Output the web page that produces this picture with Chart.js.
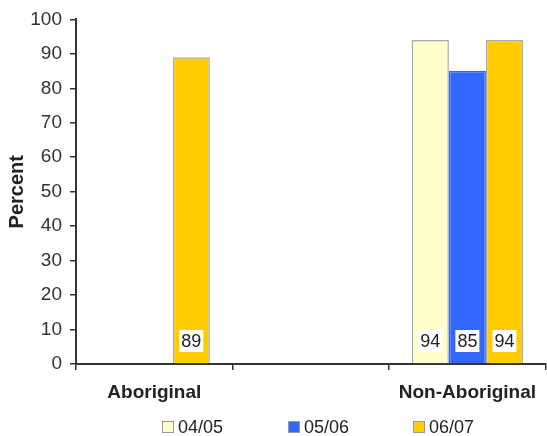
<!DOCTYPE html>
<html>
<head>
<meta charset="utf-8">
<script src="https://cdn.jsdelivr.net/npm/chart.js@4.4.0/dist/chart.umd.min.js"></script>
<style>
  html, body { margin: 0; padding: 0; background: #fff; }
  #wrap { position: relative; width: 547px; height: 436px; }
  #legend { position: absolute; left: 0; top: 417px; width: 547px; height: 20px;
    font-family: "Liberation Sans", Arial, sans-serif; font-size: 18px; color: #222; }
  .leg-item { position: absolute; top: 0; display: flex; align-items: center; height: 20px; }
  .leg-box { width: 12px; height: 12px; box-sizing: border-box; border: 1px solid #999; margin-right: 4px; }
</style>
</head>
<body>
<div id="wrap">
  <canvas id="chart" width="547" height="436"></canvas>
  <div id="legend"></div>
</div>
<script>
const categories = ["Aboriginal", "", "Non-Aboriginal"];
const seriesNames = ["04/05", "05/06", "06/07"];
const values0405 = [null, null, 94];
const values0506 = [null, null, 85];
const values0607 = [89, null, 94];
const yTicks = [0, 10, 20, 30, 40, 50, 60, 70, 80, 90, 100];

const fillColors = ["#FFFFCC", "#3366FF", "#FFCC00"];
const edgeColors = ["#aaaaaa", "#3366FF", "#aaaaaa"];
const legendLeft = [162, 288, 413];

const font = "'Liberation Sans', Arial, sans-serif";

// white value boxes at the foot of each bar
const valueBoxes = {
  id: "valueBoxes",
  afterDatasetsDraw(chart) {
    const ctx = chart.ctx;
    const base = chart.scales.y.getPixelForValue(0);
    ctx.save();
    ctx.font = `18px ${font}`;
    ctx.textAlign = "center";
    ctx.textBaseline = "middle";
    chart.data.datasets.forEach((ds, i) => {
      chart.getDatasetMeta(i).data.forEach((bar, j) => {
        const v = ds.data[j];
        if (v === null || v === undefined) return;
        const cy = base - 23;
        ctx.fillStyle = "#fff";
        ctx.fillRect(bar.x - 12, cy - 11, 24, 22);
        ctx.fillStyle = "#222";
        ctx.fillText(String(v), bar.x, cy + 1);
      });
    });
    ctx.restore();
  },
};

const chart = new Chart(document.getElementById("chart"), {
  type: "bar",
  data: {
    labels: categories,
    datasets: [values0405, values0506, values0607].map((vals, i) => ({
      label: seriesNames[i],
      data: vals,
      backgroundColor: fillColors[i],
      borderColor: edgeColors[i],
      borderWidth: 1.5,
      categoryPercentage: 0.71,
      barPercentage: 1.0,
    })),
  },
  options: {
    responsive: false,
    animation: false,
    layout: { padding: { top: 10, right: 0, bottom: 30, left: 0 } },
    plugins: { legend: { display: false }, tooltip: { enabled: false } },
    scales: {
      x: {
        grid: { drawOnChartArea: false, offset: true, tickLength: 6, color: "#333", lineWidth: 1.5 },
        border: { color: "#333", width: 2 },
        ticks: { color: "#222", padding: 11, font: { family: font, size: 19, weight: "bold" }, maxRotation: 0 },
        afterFit: (scale) => { scale.height = 42; },
      },
      y: {
        min: 0,
        max: 100,
        afterBuildTicks: (scale) => { scale.ticks = yTicks.map((v) => ({ value: v })); },
        grid: { drawOnChartArea: false, tickLength: 6, color: "#333", lineWidth: 1.5 },
        border: { color: "#333", width: 2 },
        ticks: { color: "#333", padding: 8, font: { family: font, size: 19 } },
        title: { display: true, text: "Percent", color: "#222", padding: { top: 5, bottom: 0 },
          font: { family: font, size: 20, weight: "bold" } },
        afterFit: (scale) => { scale.width = 76; },
      },
    },
  },
  plugins: [valueBoxes],
});

const legendEl = document.getElementById("legend");
chart.data.datasets.forEach((ds, i) => {
  const item = document.createElement("div");
  item.className = "leg-item";
  item.style.left = `${legendLeft[i]}px`;
  const box = document.createElement("span");
  box.className = "leg-box";
  box.style.background = ds.backgroundColor;
  const txt = document.createElement("span");
  txt.textContent = ds.label;
  item.append(box, txt);
  legendEl.appendChild(item);
});
</script>
</body>
</html>
